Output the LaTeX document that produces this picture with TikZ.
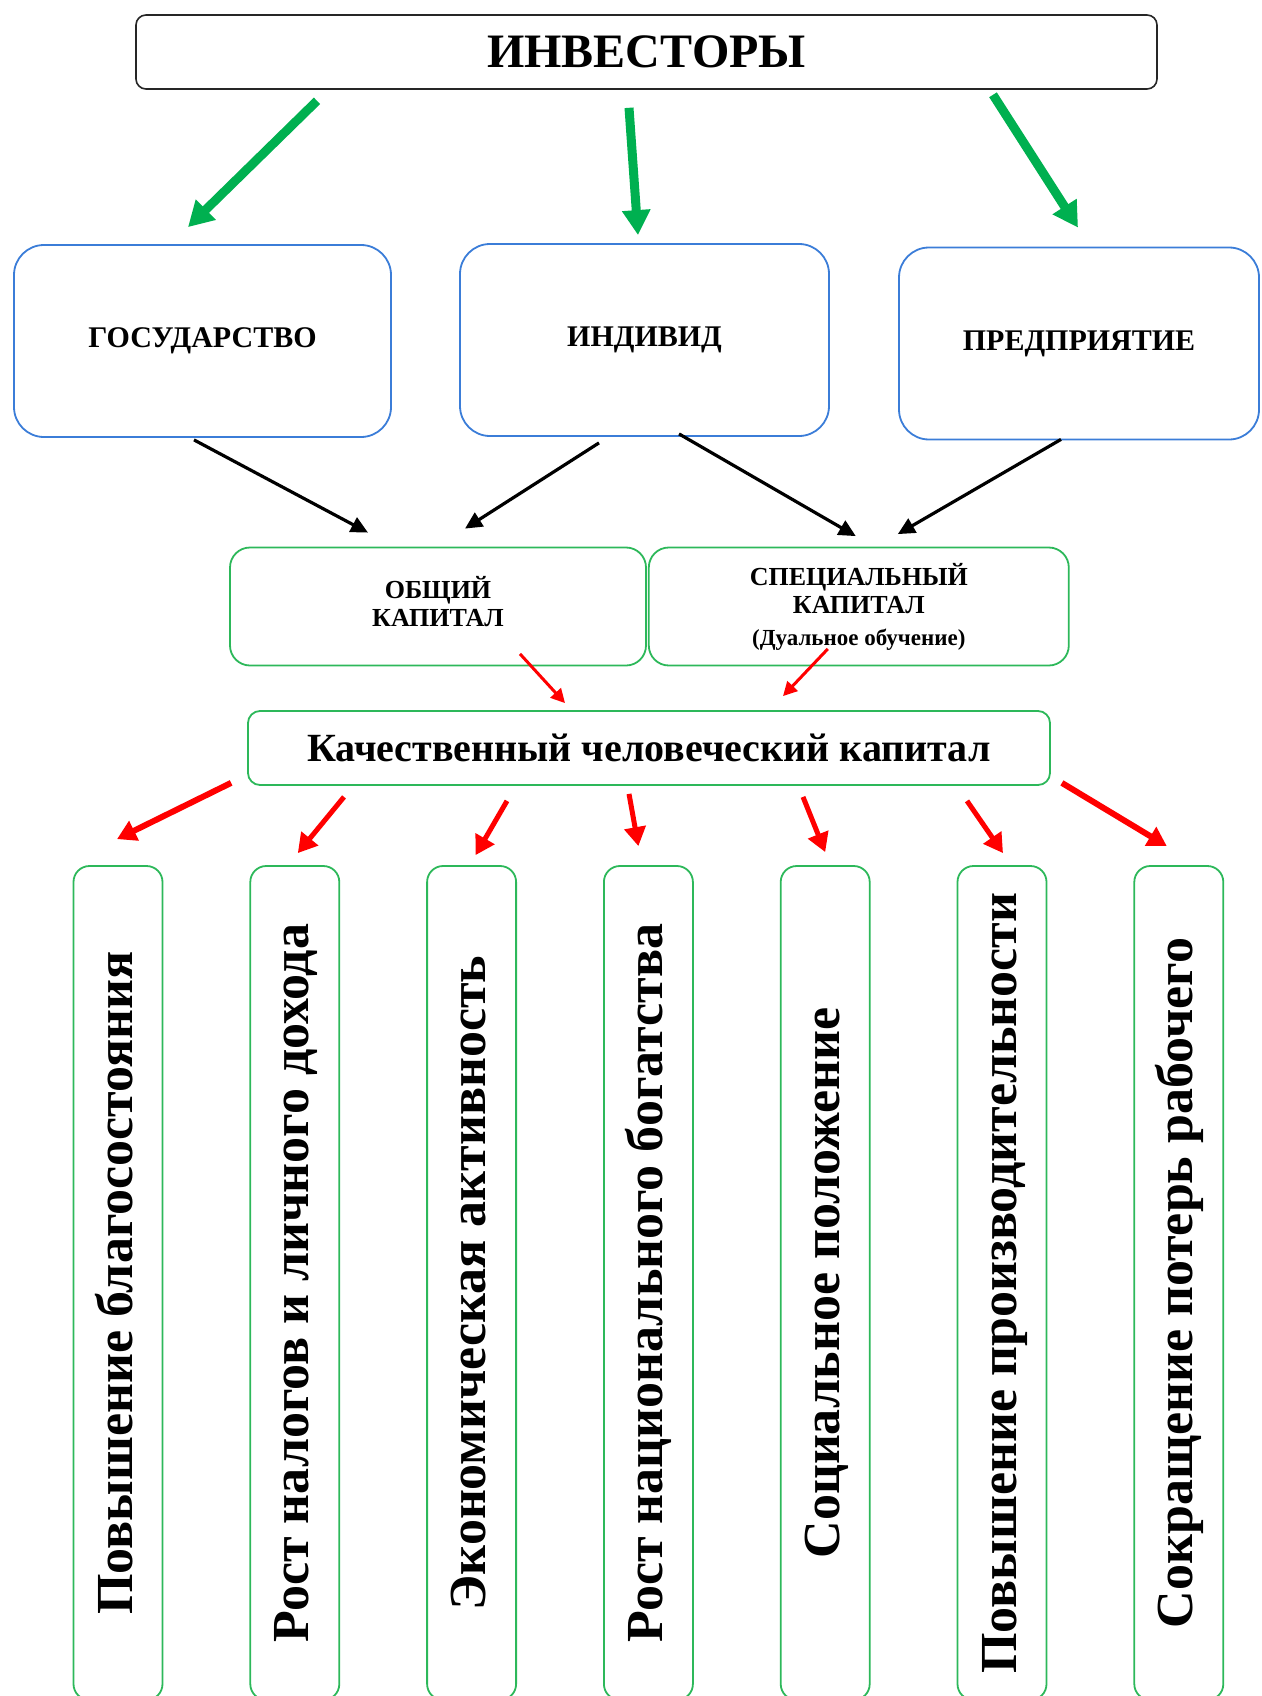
\documentclass[tikz,border=0pt]{standalone}
\usepackage{fontspec}
\setmainfont{Liberation Serif}
\usetikzlibrary{arrows.meta,positioning}
\definecolor{invgreen}{HTML}{00B050}
\definecolor{agentblue}{HTML}{3B7DD8}
\definecolor{capgreen}{HTML}{2DB85A}
\definecolor{gainred}{HTML}{FF0000}

\begin{document}
\begin{tikzpicture}[
  x=1pt, y=-1pt, font=\bfseries,
  headbox/.style={draw=black!85, line width=1.6pt, rounded corners=10pt,
               minimum width=1021pt, minimum height=74pt,
               font=\fontsize{48}{52}\selectfont\bfseries},
  agent/.style={draw=agentblue, line width=1.8pt, rounded corners=30pt,
               minimum height=192pt, font=\fontsize{30}{33}\selectfont\bfseries},
  capbox/.style={draw=capgreen, line width=1.8pt, rounded corners=20pt,
               align=center, minimum height=118pt,
               font=\fontsize{26}{28}\selectfont\bfseries},
  qualbox/.style={draw=capgreen, line width=1.8pt, rounded corners=12pt,
               minimum width=802pt, minimum height=74pt,
               font=\fontsize{40}{44}\selectfont\bfseries},
  outbox/.style={draw=capgreen, line width=1.8pt, rounded corners=16pt,
               minimum width=89pt, minimum height=834pt, inner sep=0pt},
  outtext/.style={rotate=90, text height=38pt, text depth=10pt, inner sep=0pt,
               font=\fontsize{52}{56}\selectfont\bfseries},
  invest/.style={-{Triangle[length=25pt,width=27pt]}, invgreen, line width=9pt},
  feed/.style={-{Triangle[length=17pt,width=16pt]}, black, line width=3.2pt},
  gain/.style={-{Triangle[length=14pt,width=14pt]}, gainred, line width=3pt},
  effect/.style={-{Triangle[length=19pt,width=21pt]}, gainred, line width=5pt},
]
\useasboundingbox (0,0) rectangle (1261,1696);
\clip (0,0) rectangle (1261,1696);

\node[headbox] (inv) at (646.5,52) {ИНВЕСТОРЫ};

\node[agent, minimum width=377pt] (gos)  at (202.5,341) {ГОСУДАРСТВО};
\node[agent, minimum width=369pt] (ind)  at (644.5,340) {ИНДИВИД};
\node[agent, minimum width=360pt] (pred) at (1079,343.5) {ПРЕДПРИЯТИЕ};

\draw[invest] ([xshift=-329.5pt,yshift=-11pt]inv.south) -- ([xshift=-14.5pt,yshift=17pt]gos.north);
\draw[invest] ([xshift=-17.5pt,yshift=-18pt]inv.south)  -- ([xshift=-6.5pt,yshift=8pt]ind.north);
\draw[invest] ([xshift=346.5pt,yshift=-5pt]inv.south)   -- ([xshift=-1pt,yshift=19pt]pred.north);

\node[capbox, minimum width=416pt, text depth=11pt] (gen) at (438,606.5) {ОБЩИЙ\\КАПИТАЛ};
\node[capbox, minimum width=420pt, right=1pt of gen] (spec)
  {СПЕЦИАЛЬНЫЙ\\КАПИТАЛ\\[4pt]{\fontsize{23}{26}\selectfont(Дуальное обучение)}};

\draw[feed] ([xshift=-8.5pt,yshift=-2pt]gos.south)  -- ([xshift=-70pt,yshift=14pt]gen.north);
\draw[feed] ([xshift=-45.5pt,yshift=-6pt]ind.south) -- ([xshift=27pt,yshift=18pt]gen.north);
\draw[feed] ([xshift=34.5pt,yshift=3pt]ind.south)   -- ([xshift=-3pt,yshift=10.5pt]spec.north);
\draw[feed] ([xshift=-18pt,yshift=1pt]pred.south)   -- ([xshift=39pt,yshift=12.5pt]spec.north);

\node[qualbox] (qual) at (649,748) {Качественный человеческий капитал};

\draw[gain] ([xshift=82pt,yshift=12.5pt]gen.south)   -- ([xshift=-84pt,yshift=7pt]qual.north);
\draw[gain] ([xshift=-31pt,yshift=17.5pt]spec.south) -- ([xshift=134pt,yshift=14pt]qual.north);

% results of the investment
\node[outbox] (o1) at (118,1283) {};
\node[outbox, right=86pt of o1] (o2) {};
\node[outbox, right=86pt of o2] (o3) {};
\node[outbox, right=86pt of o3] (o4) {};
\node[outbox, right=86pt of o4] (o5) {};
\node[outbox, right=86pt of o5] (o6) {};
\node[outbox, right=86pt of o6] (o7) {};

\foreach \i/\txt in {1/Повышение благосостояния, 2/Рост налогов и личного дохода,
                     3/Экономическая активность, 4/Рост национального богатства,
                     5/Социальное положение, 6/Повышение производительности,
                     7/Сокращение потерь рабочего}
  \node[outtext] (t\i) at (o\i) {\txt};

\draw[effect, line width=6pt] ([xshift=-16pt,yshift=3pt]qual.south west) -- ([xshift=-1pt,yshift=26pt]o1.north);
\foreach \sx/\sy/\o/\ex/\ey in {-305/-11/o2/3/12, -142/-15/o3/4/10, -20/-8/o4/-10/19,
                                154/-11/o5/0/13, 318/-15/o6/1/12}
  \draw[effect] ([xshift=\sx pt,yshift=\sy pt]qual.south) -- ([xshift=\ex pt,yshift=\ey pt]\o.north);
\draw[effect, line width=6pt] ([xshift=11pt,yshift=3pt]qual.south east) -- ([xshift=-12pt,yshift=19pt]o7.north);

\end{tikzpicture}
\end{document}
